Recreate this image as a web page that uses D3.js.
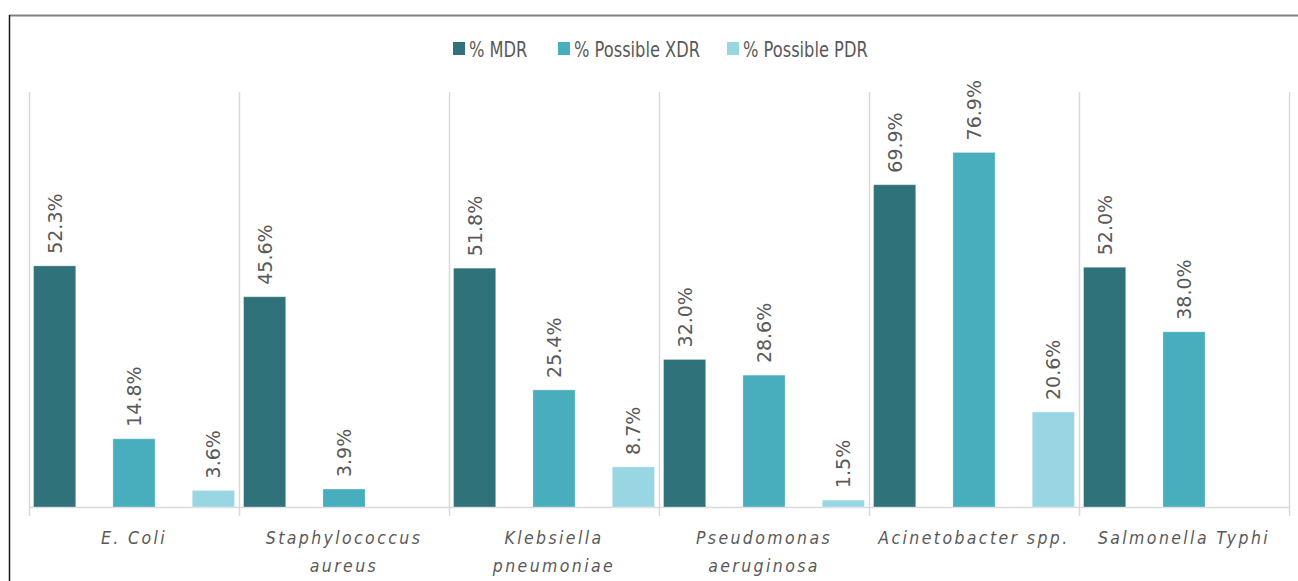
<!DOCTYPE html>
<html>
<head>
<meta charset="utf-8">
<script src="https://cdn.jsdelivr.net/npm/d3@7"></script>
<style>
  html, body { margin: 0; padding: 0; background: #fff; }
  svg { display: block; }
  .val { font-family: "DejaVu Sans", sans-serif; font-size: 19px; fill: #595959; }
  .cat { font-family: "DejaVu Sans Condensed", "DejaVu Sans", sans-serif; font-style: italic; font-size: 17.5px; fill: #595959; letter-spacing: 2.4px; }
  .leg { font-family: "DejaVu Sans Condensed", "DejaVu Sans", sans-serif; font-size: 21px; fill: #595959; }
</style>
</head>
<body>
<svg id="chart" width="1298" height="581"></svg>
<script>
// Organisms on the x axis (multi-line labels split on "|")
const categories = ["E. Coli", "Staphylococcus|aureus", "Klebsiella|pneumoniae", "Pseudomonas|aeruginosa", "Acinetobacter spp.", "Salmonella Typhi"];
const seriesNames = ["% MDR", "% Possible XDR", "% Possible PDR"];
// Resistance percentages per organism (null = not reported)
const mdr = [52.3, 45.6, 51.8, 32.0, 69.9, 52.0];
const xdr = [14.8, 3.9, 25.4, 28.6, 76.9, 38.0];
const pdr = [3.6, null, 8.7, 1.5, 20.6, null];
const seriesColors = ["#2f727a", "#48adbd", "#97d6e2"];

const seriesValues = [mdr, xdr, pdr];
const svg = d3.select("#chart");
const W = 1298, H = 581;

// outer frame
svg.append("line").attr("x1", 9.5).attr("x2", W).attr("y1", 15.5).attr("y2", 15.5)
  .attr("stroke", "#808080").attr("stroke-width", 2);
svg.append("line").attr("x1", 9.5).attr("x2", 9.5).attr("y1", 15).attr("y2", H)
  .attr("stroke", "#1a1a1a").attr("stroke-width", 1.5);

const plot = { left: 29, right: 1289, top: 92, bottom: 507 };

const x0 = d3.scaleBand().domain(categories).range([plot.left, plot.right]).padding(0);
const x1 = d3.scaleBand().domain(seriesNames).range([0, x0.bandwidth()])
  .paddingInner(0.468).paddingOuter(0.057);
const y = d3.scaleLinear().domain([0, 90]).range([plot.bottom, plot.top]);

// category separators
const seps = d3.range(categories.length + 1).map(i => i === categories.length ? plot.right : x0(categories[i]));
svg.append("g").selectAll("line").data(seps).join("line")
  .attr("x1", d => Math.round(d) + 0.5).attr("x2", d => Math.round(d) + 0.5)
  .attr("y1", plot.top).attr("y2", plot.bottom + 9)
  .attr("stroke", "#d9d9d9").attr("stroke-width", 1.5);

// baseline
svg.append("line").attr("x1", plot.left).attr("x2", plot.right)
  .attr("y1", plot.bottom + 0.5).attr("y2", plot.bottom + 0.5)
  .attr("stroke", "#d9d9d9").attr("stroke-width", 1.5);

// flattened bar records
const bars = [];
categories.forEach((c, ci) => {
  seriesNames.forEach((s, si) => {
    const v = seriesValues[si][ci];
    if (v !== null && v !== undefined) bars.push({ c, s, si, v });
  });
});

const g = svg.append("g");
g.selectAll("rect").data(bars).join("rect")
  .attr("x", d => x0(d.c) + x1(d.s))
  .attr("y", d => y(d.v))
  .attr("width", x1.bandwidth())
  .attr("height", d => y(0) - y(d.v))
  .attr("fill", d => seriesColors[d.si])
  .attr("stroke", "#ffffff").attr("stroke-opacity", 0.35).attr("stroke-width", 1);

// rotated value labels
g.selectAll("text.val").data(bars).join("text")
  .attr("class", "val")
  .attr("transform", d => `translate(${x0(d.c) + x1(d.s) + x1.bandwidth() / 2 + 7},${y(d.v) - 12}) rotate(-90)`)
  .attr("text-anchor", "start")
  .text(d => d.v.toFixed(1) + "%");

// category labels
const catG = svg.append("g");
categories.forEach(c => {
  const lines = c.split("|");
  const t = catG.append("text").attr("class", "cat")
    .attr("text-anchor", "middle")
    .attr("x", x0(c) + x0.bandwidth() / 2)
    .attr("y", 544);
  lines.forEach((ln, i) => {
    t.append("tspan").attr("x", x0(c) + x0.bandwidth() / 2)
      .attr("dy", i === 0 ? 0 : 28).text(ln);
  });
});

// legend (narrowed text)
const legX = [453, 558, 727];
const leg = svg.append("g");
seriesNames.forEach((s, i) => {
  leg.append("rect").attr("x", legX[i]).attr("y", 42).attr("width", 12).attr("height", 13)
    .attr("fill", seriesColors[i]);
  leg.append("text").attr("class", "leg")
    .attr("transform", `translate(${legX[i] + 16},56.5) scale(0.86,1)`)
    .text(s);
});
</script>
</body>
</html>
